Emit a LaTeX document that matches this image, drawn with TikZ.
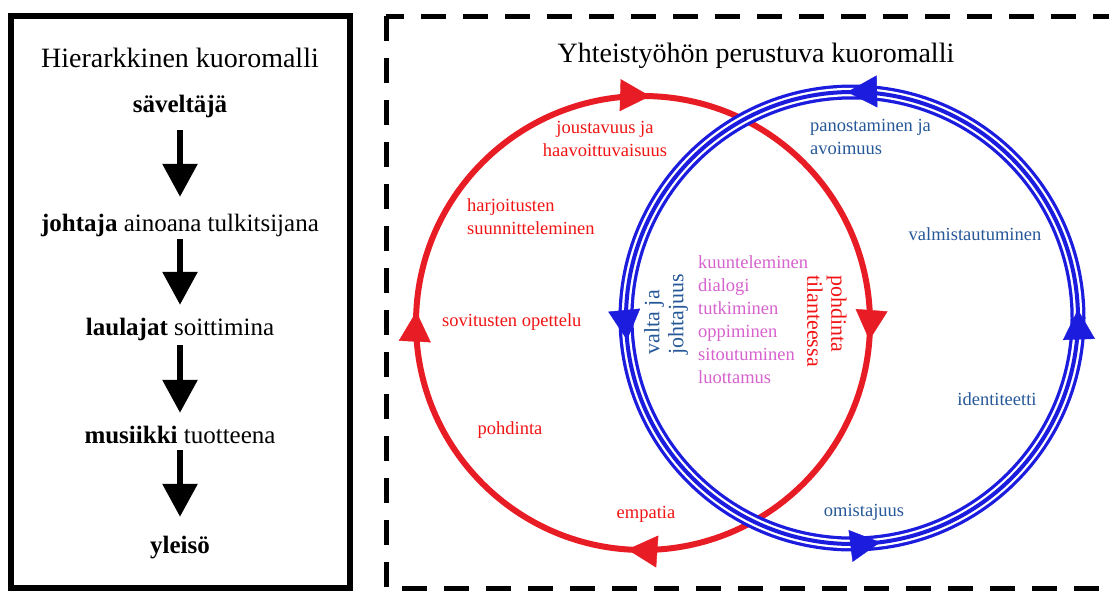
\documentclass[tikz,border=0pt]{standalone}
\usepackage{fontspec}
\setmainfont{Liberation Serif}
\usetikzlibrary{arrows.meta,decorations.markings}
\definecolor{ringred}{RGB}{232,28,36}
\definecolor{labelred}{RGB}{240,20,20}
\definecolor{ringblue}{RGB}{28,28,222}
\definecolor{labelblue}{RGB}{38,88,152}
\definecolor{listpink}{RGB}{214,98,206}
\tikzset{
  heading/.style={font=\fontsize{28}{34}\selectfont, inner sep=0pt, anchor=base},
  stage/.style={font=\fontsize{25}{30}\selectfont, inner sep=0pt, text height=18pt, text depth=6pt, anchor=base},
  downarr/.style={-{Triangle[length=33pt,width=34pt]}, line width=6pt},
  lbl/.style={font=\fontsize{18.5}{23}\selectfont, inner sep=0pt},
  redlbl/.style={lbl, text=labelred},
  bluelbl/.style={lbl, text=labelblue},
  sidelbl/.style={font=\fontsize{22}{24}\selectfont, inner sep=0pt, align=left},
  frame/.style={line width=6pt},
  dashframe/.style={line width=5pt, dash pattern=on 25pt off 17pt},
  redring/.style={draw=ringred, line width=6pt},
  bluering/.style={draw=white, line width=8.5pt, preaction={draw=ringblue, line width=15pt}, postaction={draw=ringblue, line width=4pt}},
  tips/.style={decoration={markings,
      mark=at position \tipA with {\arrow[#1]{Triangle[length=30pt,width=32pt]}},
      mark=at position \tipB with {\arrow[#1]{Triangle[length=30pt,width=32pt]}},
      mark=at position \tipC with {\arrow[#1]{Triangle[length=30pt,width=32pt]}},
      mark=at position \tipD with {\arrow[#1]{Triangle[length=30pt,width=32pt]}}}, decorate},
}

\begin{document}
\begin{tikzpicture}[x=1pt,y=-1pt]
  \useasboundingbox (0,0) rectangle (1109,590);
  % frames
  \draw[frame] (11,16) rectangle (350,588);
  \draw[dashframe] (386,16) rectangle (1125,588);
  % hierarchical model
  \node[heading] (htitle) at (180,67) {Hierarkkinen kuoromalli};
  \node[stage] (s1) at (180,112) {\textbf{säveltäjä}};
  \node[stage] (s2) at (180,231) {\textbf{johtaja} ainoana tulkitsijana};
  \node[stage] (s3) at (180,335) {\textbf{laulajat} soittimina};
  \node[stage] (s4) at (180,443) {\textbf{musiikki} tuotteena};
  \node[stage] (s5) at (180,553) {\textbf{yleisö}};
  \foreach \a/\b/\s/\e in {s1/s2/12pt/16pt,s2/s3/2pt/12pt,s3/s4/4pt/12pt,s4/s5/1pt/18pt}{
    \draw[downarr, shorten <=\s, shorten >=\e] (\a) -- (\b);
  }
  % collaborative model
  \node[heading] (ctitle) at (756,62) {Yhteistyöhön perustuva kuoromalli};
  \coordinate (rc) at (643,323);
  \coordinate (bc) at (852,318);
  \draw[redring] (rc) ++(0:227) arc[start angle=0, end angle=360, radius=227];
  \draw[bluering] (bc) ++(0:226) arc[start angle=0, end angle=-360, radius=226];
  \def\tipA{0.012}\def\tipB{0.261}\def\tipC{0.508}\def\tipD{0.755}
  \path[tips=ringred] (rc) ++(0:227) arc[start angle=0, end angle=360, radius=227];
  \def\tipA{0.006}\def\tipB{0.2535}\def\tipC{0.5155}\def\tipD{0.77}
  \path[tips=ringblue] (bc) ++(0:226) arc[start angle=0, end angle=-360, radius=226];
  % red labels
  \node[redlbl, align=center] (flex) at (605,139) {joustavuus ja\\haavoittuvaisuus};
  \node[redlbl, align=left, anchor=west] (plan) at (467,217) {harjoitusten\\suunnitteleminen};
  \node[redlbl, anchor=west] (arr) at (442,322) {sovitusten opettelu};
  \node[redlbl] (refl) at (510,430) {pohdinta};
  \node[redlbl] (emp) at (646,514) {empatia};
  % blue labels
  \node[bluelbl, align=left, anchor=west] (open) at (810,137) {panostaminen ja\\avoimuus};
  \node[bluelbl] (prep) at (975,234) {valmistautuminen};
  \node[bluelbl] (ident) at (997,399) {identiteetti};
  \node[bluelbl] (own) at (864,512) {omistajuus};
  % shared area
  \node[lbl, text=listpink, align=left, anchor=west] (shared) at (698,320) {kuunteleminen\\dialogi\\tutkiminen\\oppiminen\\sitoutuminen\\luottamus};
  \node[sidelbl, text=labelblue, rotate=90] (power) at (666,314) {valta ja\\johtajuus};
  \node[sidelbl, text=labelred, rotate=-90] (situ) at (827,321) {pohdinta\\tilanteessa};
\end{tikzpicture}
\end{document}
